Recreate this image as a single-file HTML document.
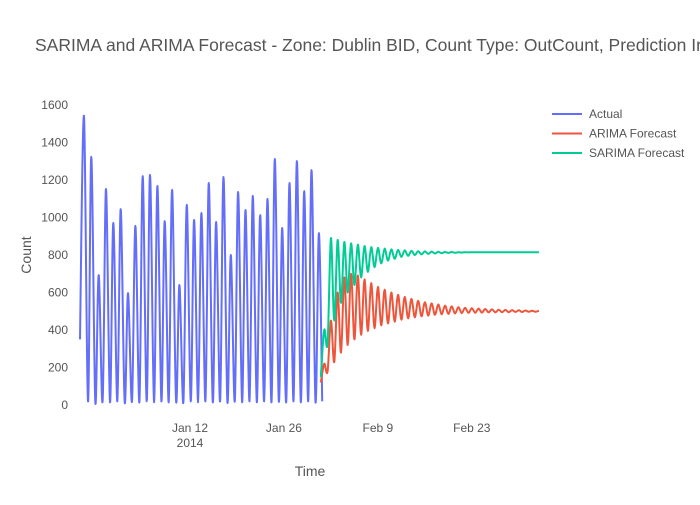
<!DOCTYPE html>
<html><head><meta charset="utf-8">
<style>
body{margin:0;background:#fff;font-family:"Liberation Sans",Arial,sans-serif;}
svg text{font-family:"Liberation Sans",Arial,sans-serif;fill:#555;}
</style></head>
<body>
<svg id="chart" width="700" height="500">
<text x="35" y="51" font-size="17.5">SARIMA and ARIMA Forecast - Zone: Dublin BID, Count Type: OutCount, Prediction In</text>
<g id="yticks"></g>
<g id="xticks"></g>
<text x="31" y="255" font-size="14" text-anchor="middle" transform="rotate(-90 31 255)">Count</text>
<text x="310" y="476" font-size="14" text-anchor="middle">Time</text>
<g id="series"></g>
<g id="legend"></g>
</svg>
<script>
const yTicks=[0,200,400,600,800,1000,1200,1400,1600];
const xTickDays=[11,25,39,53];
const xTickLabels=["Jan 12","Jan 26","Feb 9","Feb 23"];
const actualStartDay=-4.8;
const actualStepDays=1.094;
const actualPeaks=[1541,1323,693,1152,971,1045,597,955,1221,1227,1168,981,1147,640,1067,987,1024,1184,976,1216,800,1136,1040,1115,1013,1099,1312,944,1184,1301,1141,1253,917];
const actualTroughs=[350,20,15,20,15,20,15,20,15,20,15,20,15,20,15,20,15,20,15,20,15,20,15,20,15,20,15,20,15,20,15,20,15,20];
const forecastStartDay=30.5;
const arimaTroughs=[120,180,230,280,320,350,375,395,410,425,435,445,455,462,468,473,477,481,484,486,488,490,491,492,493,494,494,495,495,496,496,497,497];
const arimaPeaks=[220,450,600,680,700,690,670,650,630,615,600,588,576,566,556,548,542,536,530,526,522,519,516,514,512,510,508,507,506,505,504,503,503];
const sarimaTroughs=[150,330,450,545,600,640,680,710,735,755,770,780,790,795,800,803,806,808,810,811,812,813,814,815,815,815,815,815,815,815,815,815,815];
const sarimaPeaks=[400,890,880,870,862,855,848,842,838,834,830,827,825,822,820,819,818,817,816,816,815,815,815,815,815,815,815,815,815,815,815,815,815];

const NS="http://www.w3.org/2000/svg";
const yS=v=>405-v*0.1875;
const xS=d=>190+(d-11)*6.71;
function mk(tag,attrs,parent){const e=document.createElementNS(NS,tag);for(const k in attrs)e.setAttribute(k,attrs[k]);parent.appendChild(e);return e;}
const yg=document.getElementById('yticks');
yTicks.forEach(v=>{const t=mk('text',{x:68,y:yS(v)+4,'font-size':12,'text-anchor':'end'},yg);t.textContent=v;

});
const xg=document.getElementById('xticks');
xTickDays.forEach((d,i)=>{const t=mk('text',{x:xS(d),y:432,'font-size':12,'text-anchor':'middle'},xg);t.textContent=xTickLabels[i];


if(i===0){const t2=mk('text',{x:xS(d),y:447,'font-size':12,'text-anchor':'middle'},xg);t2.textContent='2014';

}});
const sg=document.getElementById('series');
function smoothPath(pts){const P=pts.map(p=>[xS(p[0]),yS(p[1])]);let d='M'+P[0][0].toFixed(1)+','+P[0][1].toFixed(1);
for(let i=0;i<P.length-1;i++){const p0=P[Math.max(0,i-1)],p1=P[i],p2=P[i+1],p3=P[Math.min(P.length-1,i+2)];
const c1=[p1[0]+(p2[0]-p0[0])/6,p1[1]+(p2[1]-p0[1])/6],c2=[p2[0]-(p3[0]-p1[0])/6,p2[1]-(p3[1]-p1[1])/6];
d+=' C'+c1[0].toFixed(1)+','+c1[1].toFixed(1)+' '+c2[0].toFixed(1)+','+c2[1].toFixed(1)+' '+p2[0].toFixed(1)+','+p2[1].toFixed(1);}
return d;}
function draw(pts,color,name){const l=mk('path',{d:smoothPath(pts),fill:'none',stroke:color,'stroke-width':2,'stroke-linejoin':'round'},sg);

}
let ap=[[actualStartDay-0.6,actualTroughs[0]]];
actualPeaks.forEach((p,i)=>{const d=actualStartDay+i*actualStepDays;if(i>0)ap.push([d-0.5,actualTroughs[i]]);ap.push([d,p]);});
ap.push([actualStartDay+(actualPeaks.length-1)*actualStepDays+0.5,actualTroughs[actualTroughs.length-1]]);
draw(ap,'#636efa','actual-line');
function fc(tr,pk){const r=[];tr.forEach((t,i)=>{const d=forecastStartDay+i;r.push([d,t]);r.push([d+0.5,pk[i]]);});return r;}
draw(fc(arimaTroughs,arimaPeaks),'#ef553b','arima-forecast-line');
draw(fc(sarimaTroughs,sarimaPeaks),'#00cc96','sarima-forecast-line');
const lg=document.getElementById('legend');
[['Actual','#636efa'],['ARIMA Forecast','#ef553b'],['SARIMA Forecast','#00cc96']].forEach((e,i)=>{
const g=mk('g',{},lg);


const y=114+i*19.5;
mk('line',{x1:552,x2:582,y1:y,y2:y,stroke:e[1],'stroke-width':2},g);
const t=mk('text',{x:589,y:y+4,'font-size':12},g);t.textContent=e[0];});
</script>
</body></html>
